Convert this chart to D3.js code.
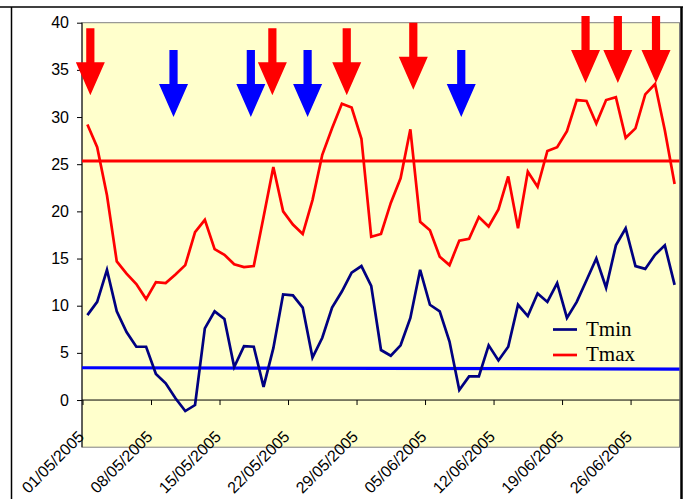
<!DOCTYPE html>
<html>
<head>
<meta charset="utf-8">
<script src="https://cdn.jsdelivr.net/npm/d3@7"></script>
<style>
  html, body { margin: 0; padding: 0; background: #ffffff; }
  svg { display: block; }
</style>
</head>
<body>
<svg id="chart" width="688" height="499"></svg>
<script>
// ---- data ----
const dayCount = 61; // 01/05/2005 .. 30/06/2005
const tickDays = [0, 7, 14, 21, 28, 35, 42, 49, 56];
const tickLabels = ["01/05/2005","08/05/2005","15/05/2005","22/05/2005","29/05/2005",
                    "05/06/2005","12/06/2005","19/06/2005","26/06/2005"];
const yTicks = [0, 5, 10, 15, 20, 25, 30, 35, 40];

const tmin = [9.0, 10.4, 13.8, 9.4, 7.2, 5.65, 5.65, 2.76, 1.77, 0.18,
              -1.17, -0.53, 7.6, 9.4, 8.6, 3.5, 5.7, 5.65, 1.4, 5.5,
              11.2, 11.1, 9.8, 4.5, 6.6, 9.8, 11.5, 13.5, 14.2, 12.1,
              5.3, 4.7, 5.8, 8.7, 13.8, 10.1, 9.4, 6.2, 1.06, 2.5,
              2.5, 5.8, 4.2, 5.65, 10.1, 8.9, 11.3, 10.4, 12.4, 8.7,
              10.4, 12.7, 15.0, 11.9, 16.4, 18.2, 14.2, 13.9, 15.4, 16.4, 12.2];
const tmax = [29.2, 26.8, 21.7, 14.7, 13.4, 12.3, 10.7, 12.5, 12.4, 13.3,
              14.3, 17.8, 19.1, 16.0, 15.4, 14.4, 14.1, 14.2, 19.4, 24.7,
              20.0, 18.6, 17.6, 21.2, 26.0, 28.8, 31.4, 31.0, 27.7, 17.3,
              17.6, 20.9, 23.5, 28.7, 18.9, 18.0, 15.2, 14.3, 16.9, 17.1,
              19.4, 18.4, 20.2, 23.7, 18.2, 24.2, 22.6, 26.4, 26.8, 28.5,
              31.8, 31.7, 29.3, 31.8, 32.1, 27.8, 28.8, 32.4, 33.5, 28.6, 22.9];

// reference levels (start, end)
const refTmax = [25.35, 25.35];
const refTmin = [3.42, 3.28];

// annotation arrows: day position and value at the arrow tip
const redArrowDays = [0.3, 18.9, 26.5, 33.3, 50.9, 54.2, 58.1];
const redArrowTips = [32.3, 32.3, 32.3, 32.9, 33.6, 33.6, 33.6];
const blueArrowDays = [8.8, 16.7, 22.5, 38.2];
const blueArrowTips = [30.0, 30.0, 30.0, 30.0];

const seriesNames = ["Tmin", "Tmax"];
const seriesColors = ["#000080", "#ff0000"];

// ---- layout ----
const svg = d3.select("#chart");
const plot = { left: 82, right: 679.5, top: 22.7, bottom: 447.2 };

const x = d3.scaleLinear().domain([0, dayCount]).range([plot.left + 0.5, plot.right]);
const y = d3.scaleLinear().domain([-5, 40]).range([plot.bottom, plot.top]);

// outer frame
svg.append("line").attr("x1", 0).attr("x2", 683).attr("y1", 7).attr("y2", 7)
   .attr("stroke", "#000").attr("stroke-width", 1.5);
svg.append("line").attr("x1", 11.5).attr("x2", 11.5).attr("y1", 7).attr("y2", 499)
   .attr("stroke", "#000").attr("stroke-width", 1.5);
svg.append("line").attr("x1", 681.5).attr("x2", 681.5).attr("y1", 7).attr("y2", 499)
   .attr("stroke", "#000").attr("stroke-width", 2.5);

// plot area
svg.append("rect")
   .attr("x", plot.left).attr("y", plot.top)
   .attr("width", plot.right - plot.left).attr("height", plot.bottom - plot.top)
   .attr("fill", "#ffffcc").attr("stroke", "#808080").attr("stroke-width", 1);

// y axis
const yAxis = d3.axisLeft(y).tickValues(yTicks).tickSize(5).tickPadding(8).tickFormat(d3.format("d"));
const gy = svg.append("g").attr("transform", `translate(${plot.left},0)`).call(yAxis);
gy.select(".domain").remove();
gy.append("line").attr("x1", 0).attr("x2", 0).attr("y1", plot.top).attr("y2", plot.bottom)
  .attr("stroke", "#000").attr("stroke-width", 1);
gy.selectAll(".tick line").attr("stroke", "#000");
gy.selectAll(".tick text").attr("font-family", "Liberation Sans, Arial, sans-serif")
  .attr("font-size", 16).attr("fill", "#000");

// x axis at zero
const xAxis = d3.axisBottom(x).tickValues(tickDays).tickSize(5).tickFormat("");
const gx = svg.append("g").attr("transform", `translate(0,${y(0)})`).call(xAxis);
gx.select(".domain").remove();
gx.append("line").attr("x1", plot.left).attr("x2", plot.right).attr("y1", 0).attr("y2", 0)
  .attr("stroke", "#000").attr("stroke-width", 1);
gx.selectAll(".tick line").attr("stroke", "#000");

// rotated date labels below plot
svg.append("g").selectAll("text").data(tickDays).join("text")
   .attr("transform", (d) => `translate(${x(d) + 2.5},${plot.bottom - 9.5}) rotate(-45)`)
   .attr("text-anchor", "end")
   .attr("font-family", "Liberation Sans, Arial, sans-serif")
   .attr("font-size", 16).attr("fill", "#000")
   .text((d, i) => tickLabels[i]);

// reference lines
svg.append("line")
   .attr("x1", plot.left).attr("x2", plot.right)
   .attr("y1", y(refTmax[0])).attr("y2", y(refTmax[1]))
   .attr("stroke", "#ff0000").attr("stroke-width", 3);
svg.append("line")
   .attr("x1", plot.left).attr("x2", plot.right)
   .attr("y1", y(refTmin[0])).attr("y2", y(refTmin[1]))
   .attr("stroke", "#0000ff").attr("stroke-width", 3.2);

// series lines
const line = d3.line().x((d, i) => x(i + 0.5)).y((d) => y(d));
[tmin, tmax].forEach((s, k) => {
  svg.append("path").datum(s)
     .attr("d", line)
     .attr("fill", "none")
     .attr("stroke", seriesColors[k])
     .attr("stroke-width", 2.7)
     .attr("stroke-linejoin", "miter");
});

// arrows
function arrowPath(tx, ty) {
  const head = 33, shaft = 34, hw = 14.5, sw = 4.1;
  const hb = ty - head, top = hb - shaft;
  return `M${tx - sw},${top}L${tx + sw},${top}L${tx + sw},${hb}L${tx + hw},${hb}` +
         `L${tx},${ty}L${tx - hw},${hb}L${tx - sw},${hb}Z`;
}
svg.append("g").selectAll("path").data(blueArrowDays).join("path")
   .attr("d", (d, i) => arrowPath(x(d + 0.5), y(blueArrowTips[i])))
   .attr("fill", "#0000ff");
svg.append("g").selectAll("path").data(redArrowDays).join("path")
   .attr("d", (d, i) => arrowPath(x(d + 0.5), y(redArrowTips[i])))
   .attr("fill", "#ff0000");

// legend
const lg = svg.append("g");
const legendY = [329.5, 355];
seriesNames.forEach((n, k) => {
  lg.append("line").attr("x1", 553).attr("x2", 577)
    .attr("y1", legendY[k]).attr("y2", legendY[k])
    .attr("stroke", seriesColors[k]).attr("stroke-width", 2.7);
  lg.append("text").attr("x", 586).attr("y", legendY[k] + 6)
    .attr("font-family", "Liberation Serif, 'Times New Roman', serif")
    .attr("font-size", 21).attr("fill", "#000").text(n);
});
</script>
</body>
</html>
